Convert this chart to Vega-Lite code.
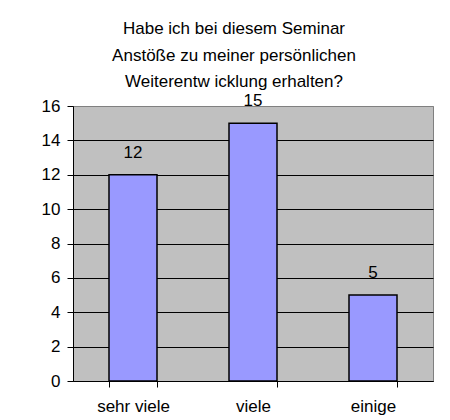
{
  "$schema": "https://vega.github.io/schema/vega-lite/v6.json",
  "autosize": "none",
  "width": 360,
  "height": 275,
  "padding": {"left": 73, "top": 106, "right": 17, "bottom": 39},
  "background": "white",
  "title": {
    "text": ["Habe ich bei diesem Seminar", "Anstöße zu meiner persönlichen", "Weiterentw icklung erhalten?"],
    "font": "Liberation Sans",
    "fontSize": 17,
    "fontWeight": "normal",
    "color": "black",
    "lineHeight": 26.5,
    "anchor": "middle",
    "dx": -19,
    "offset": 1
  },
  "data": {
    "values": [
      {"antwort": "sehr viele", "anzahl": 12},
      {"antwort": "viele", "anzahl": 15},
      {"antwort": "einige", "anzahl": 5}
    ]
  },
  "encoding": {
    "x": {
      "field": "antwort",
      "type": "nominal",
      "sort": null,
      "title": null,
      "scale": {"paddingInner": 0.6, "paddingOuter": 0.3},
      "axis": {
        "labelAngle": 0,
        "labelFont": "Liberation Sans",
        "labelFontSize": 17,
        "labelColor": "black",
        "labelPadding": 11,
        "domainColor": "black",
        "domainWidth": 1,
        "tickColor": "black",
        "tickSize": 6,
        "tickBand": "extent",
        "grid": false
      }
    },
    "y": {
      "field": "anzahl",
      "type": "quantitative",
      "title": null,
      "scale": {"domain": [0, 16], "nice": false},
      "axis": {
        "values": [0, 2, 4, 6, 8, 10, 12, 14, 16],
        "labelFont": "Liberation Sans",
        "labelFontSize": 17,
        "labelColor": "black",
        "labelPadding": 7,
        "domainColor": "black",
        "tickColor": "black",
        "tickSize": 6,
        "grid": true,
        "gridColor": {"condition": {"test": "datum.value == 16", "value": "#808080"}, "value": "black"},
        "gridWidth": 1,
        "gridOpacity": 1
      }
    }
  },
  "layer": [
    {
      "mark": {"type": "bar", "color": "#9999FF", "stroke": "black", "strokeWidth": 1.5}
    },
    {
      "mark": {"type": "text", "font": "Liberation Sans", "fontSize": 17, "color": "black", "baseline": "alphabetic", "dy": -17},
      "encoding": {"text": {"field": "anzahl", "type": "quantitative"}}
    }
  ],
  "config": {
    "view": {"fill": "#C0C0C0", "stroke": "#808080", "strokeWidth": 1}
  }
}
